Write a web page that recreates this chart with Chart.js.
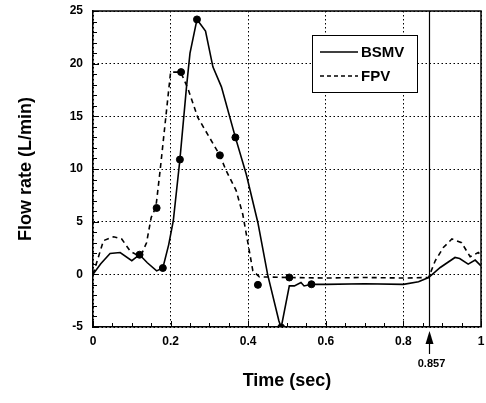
<!DOCTYPE html>
<html>
<head>
<meta charset="utf-8">
<script src="https://cdn.jsdelivr.net/npm/chart.js@4/dist/chart.umd.min.js"></script>
<style>
  html, body { margin: 0; padding: 0; background: #fff; }
  #wrap { width: 486px; height: 403px; }
</style>
</head>
<body>
<div id="wrap"><canvas id="myChart" width="486" height="403"></canvas></div>
<script>
// values
const bsmvTime = [0, 0.02, 0.044, 0.07, 0.1, 0.12, 0.14, 0.164, 0.18, 0.195, 0.207, 0.224, 0.241, 0.25, 0.268, 0.29, 0.309, 0.331, 0.367, 0.395, 0.425, 0.45, 0.479, 0.485, 0.506, 0.519, 0.536, 0.544, 0.563, 0.6, 0.7, 0.8, 0.839, 0.865, 0.895, 0.933, 0.945, 0.967, 0.985, 1.0]
const bsmvFlow = [0, 1.0, 1.98, 2.07, 1.29, 1.86, 1.1, 0.33, 0.6, 2.8, 5.1, 10.9, 17.8, 21, 24.2, 23.1, 19.7, 17.8, 13.0, 9.5, 4.9, 0, -4.4, -5.05, -1.1, -1.1, -0.78, -1.1, -0.94, -0.95, -0.9, -0.95, -0.71, -0.3, 0.65, 1.6, 1.5, 0.97, 1.35, 0.8]

const fpvTime = [0, 0.027, 0.053, 0.074, 0.096, 0.115, 0.125, 0.138, 0.15, 0.162, 0.173, 0.2, 0.226, 0.245, 0.27, 0.327, 0.343, 0.369, 0.386, 0.403, 0.412, 0.429, 0.506, 0.6, 0.7, 0.8, 0.865, 0.882, 0.903, 0.925, 0.95, 0.972, 0.993, 1.0]
const fpvFlow = [0, 3.2, 3.57, 3.35, 2.2, 1.8, 1.9, 3.0, 5.4, 6.36, 9.86, 19.2, 19.2, 17.6, 14.9, 11.3, 9.86, 7.95, 5.7, 2.2, 0.33, -0.24, -0.3, -0.35, -0.3, -0.35, -0.3, 1.29, 2.55, 3.35, 3.0, 1.67, 2.07, 1.8]

// measured points (filled dots)
const markTime = [0.12, 0.164, 0.18, 0.224, 0.227, 0.268, 0.327, 0.367, 0.425, 0.485, 0.506, 0.563]
const markFlow = [1.86, 6.3, 0.6, 10.9, 19.2, 24.2, 11.3, 13.0, -1.0, -5.05, -0.3, -0.94]

const xTickLabels = ['0', '0.2', '0.4', '0.6', '0.8', '1']
const cycleTime = 0.867
const cycleLabel = '0.857'

const FONT = '"Liberation Sans", Arial, sans-serif'

const pts = (xs, ys) => xs.map((x, i) => ({x: x, y: ys[i]}))

// box on top/right, inward ticks, cycle marker, legend
const extras = {
  id: 'extras',
  afterDraw(chart) {
    const ctx = chart.ctx
    const a = chart.chartArea
    const xs = chart.scales.x, ys = chart.scales.y
    ctx.save()
    ctx.strokeStyle = '#000'
    ctx.lineWidth = 1.5
    ctx.beginPath()
    ctx.moveTo(a.left, a.top); ctx.lineTo(a.right, a.top); ctx.lineTo(a.right, a.bottom)
    ctx.stroke()

    // inward ticks
    ctx.lineWidth = 1
    ctx.beginPath()
    for (let v = -5; v <= 25; v += 1) {
      const y = Math.round(ys.getPixelForValue(v)) + 0.5
      const len = (v % 5 === 0) ? 6 : 4
      ctx.moveTo(a.left, y); ctx.lineTo(a.left + len, y)
    }
    for (let i = 0; i <= 20; i++) {
      const x = Math.round(xs.getPixelForValue(i * 0.05)) + 0.5
      const len = (i % 4 === 0) ? 6 : 4
      ctx.moveTo(x, a.bottom); ctx.lineTo(x, a.bottom - len)
    }
    ctx.stroke()

    // cycle line + arrow
    const cx = Math.round(xs.getPixelForValue(cycleTime)) + 0.5
    ctx.lineWidth = 1.2
    ctx.beginPath()
    ctx.moveTo(cx, a.top); ctx.lineTo(cx, a.bottom)
    ctx.moveTo(cx, a.bottom + 10); ctx.lineTo(cx, a.bottom + 27)
    ctx.stroke()
    ctx.fillStyle = '#000'
    ctx.beginPath()
    ctx.moveTo(cx, a.bottom + 4); ctx.lineTo(cx - 4, a.bottom + 17); ctx.lineTo(cx + 4, a.bottom + 17)
    ctx.closePath(); ctx.fill()
    ctx.font = 'bold 11px ' + FONT
    ctx.textAlign = 'center'; ctx.textBaseline = 'middle'
    ctx.fillText(cycleLabel, cx + 2, a.bottom + 37)

    // legend
    const lx = 312, ly = 35, lw = 105, lh = 57
    ctx.fillStyle = '#fff'
    ctx.fillRect(lx, ly, lw, lh)
    ctx.lineWidth = 1
    ctx.strokeRect(lx + 0.5, ly + 0.5, lw, lh)
    const rows = [{y: 52, dash: []}, {y: 76, dash: [4, 3]}]
    chart.data.datasets.slice(0, 2).forEach((ds, i) => {
      ctx.setLineDash(rows[i].dash)
      ctx.lineWidth = 1.5
      ctx.beginPath()
      ctx.moveTo(320, rows[i].y); ctx.lineTo(358, rows[i].y)
      ctx.stroke()
      ctx.setLineDash([])
      ctx.fillStyle = '#000'
      ctx.font = 'bold 15px ' + FONT
      ctx.textAlign = 'left'; ctx.textBaseline = 'middle'
      ctx.fillText(ds.label, 361, rows[i].y + 1)
    })
    ctx.restore()
  }
}

const ctx = document.getElementById('myChart')
new Chart(ctx, {
  type: 'line',
  data: {
    datasets: [
      {
        label: 'BSMV',
        data: pts(bsmvTime, bsmvFlow),
        borderColor: '#000',
        borderWidth: 1.6,
        pointRadius: 0,
        tension: 0
      },
      {
        label: 'FPV',
        data: pts(fpvTime, fpvFlow),
        borderColor: '#000',
        borderWidth: 1.6,
        borderDash: [5, 4],
        pointRadius: 0,
        tension: 0
      },
      {
        label: 'points',
        type: 'scatter',
        data: pts(markTime, markFlow),
        backgroundColor: '#000',
        borderColor: '#000',
        pointRadius: 3.5,
        showLine: false
      }
    ]
  },
  options: {
    responsive: false,
    animation: false,
    layout: { padding: { top: 11, right: 3, left: 0, bottom: 0 } },
    plugins: { legend: { display: false }, tooltip: { enabled: false } },
    scales: {
      x: {
        type: 'linear',
        min: 0, max: 1,
        afterFit: s => { s.height = 76; s.paddingLeft = 0; s.paddingRight = 0 },
        ticks: {
          stepSize: 0.2,
          padding: 7,
          color: '#000',
          font: { family: FONT, size: 12, weight: 'bold' },
          callback: (v, i) => xTickLabels[i]
        },
        grid: { color: '#000', lineWidth: 1, drawTicks: false },
        border: { display: true, color: '#000', width: 1.5, dash: [1.5, 2.5] },
        title: {
          display: true,
          text: 'Time (sec)',
          color: '#000',
          font: { family: FONT, size: 18, weight: 'bold' },
          padding: { top: 0, bottom: 11 }
        }
      },
      y: {
        min: -5, max: 25,
        afterFit: s => { s.width = 93; s.paddingTop = 0; s.paddingBottom = 0 },
        ticks: {
          stepSize: 5,
          padding: 10,
          color: '#000',
          font: { family: FONT, size: 12, weight: 'bold' }
        },
        grid: { color: '#000', lineWidth: 1, drawTicks: false },
        border: { display: true, color: '#000', width: 1.5, dash: [1.5, 2.5] },
        title: {
          display: true,
          text: 'Flow rate (L/min)',
          color: '#000',
          font: { family: FONT, size: 18, weight: 'bold' },
          padding: { top: 15, bottom: 0 }
        }
      }
    }
  },
  plugins: [extras]
})
</script>
</body>
</html>
